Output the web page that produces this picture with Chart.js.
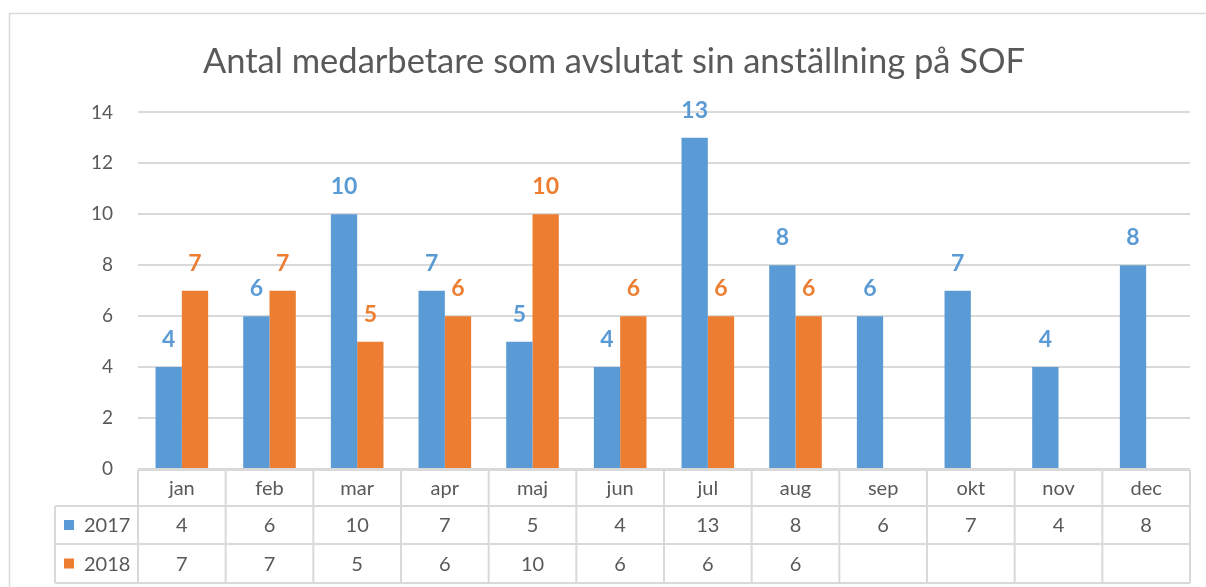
<!DOCTYPE html>
<html>
<head>
<meta charset="utf-8">
<script src="https://cdn.jsdelivr.net/npm/chart.js@4"></script>
<style>
  body { margin: 0; background: #ffffff; }
  #wrap { width: 1206px; height: 587px; }
</style>
</head>
<body>
<div id="wrap"><canvas id="chart" width="1206" height="587"></canvas></div>
<script>
const months = ["jan", "feb", "mar", "apr", "maj", "jun", "jul", "aug", "sep", "okt", "nov", "dec"];
const values2017 = [4, 6, 10, 7, 5, 4, 13, 8, 6, 7, 4, 8];
const values2018 = [7, 7, 5, 6, 10, 6, 6, 6, null, null, null, null];
const seriesNames = ["2017", "2018"];
const yTicks = [0, 2, 4, 6, 8, 10, 12, 14];

const blue = "#5B9BD5";
const orange = "#ED7D31";
const textGray = "#595959";
const lineGray = "#d9d9d9";
const fontFamily = "Lato, 'Open Sans', sans-serif";

// bar value labels, outside end
const valueLabels = {
  id: "valueLabels",
  afterDatasetsDraw(chart) {
    const ctx = chart.ctx;
    ctx.save();
    ctx.font = "bold 23px " + fontFamily;
    ctx.textAlign = "center";
    ctx.textBaseline = "bottom";
    chart.data.datasets.forEach((ds, i) => {
      const meta = chart.getDatasetMeta(i);
      ctx.fillStyle = ds.backgroundColor;
      meta.data.forEach((bar, j) => {
        if (ds.data[j] == null) return;
        ctx.fillText(String(ds.data[j]), bar.x, bar.y - 16);
      });
    });
    ctx.restore();
  }
};

// data table under the x axis, plus the outer chart border
const dataTable = {
  id: "dataTable",
  afterDraw(chart) {
    const ctx = chart.ctx;
    const x = chart.scales.x;
    const area = chart.chartArea;
    const rowTop = area.bottom + 1;
    const rows = [rowTop, rowTop + 36, rowTop + 74, rowTop + 113];
    const left = 55;
    const step = (area.right - area.left) / months.length;

    ctx.save();
    ctx.strokeStyle = lineGray;
    ctx.lineWidth = 2;
    ctx.beginPath();
    ctx.moveTo(area.left, rows[0]); ctx.lineTo(area.right, rows[0]);
    for (let r = 1; r < rows.length; r++) {
      ctx.moveTo(left, rows[r]); ctx.lineTo(area.right, rows[r]);
    }
    for (let c = 0; c <= months.length; c++) {
      const cx = area.left + c * step;
      ctx.moveTo(cx, rows[0]); ctx.lineTo(cx, rows[3]);
    }
    ctx.moveTo(left, rows[1]); ctx.lineTo(left, rows[3]);
    ctx.stroke();

    ctx.fillStyle = textGray;
    ctx.font = "20px " + fontFamily;
    ctx.textAlign = "center";
    ctx.textBaseline = "middle";
    months.forEach((m, i) => {
      const cx = x.getPixelForValue(i);
      ctx.fillText(m, cx, (rows[0] + rows[1]) / 2 + 1);
      ctx.fillText(String(values2017[i]), cx, (rows[1] + rows[2]) / 2 + 1);
      if (values2018[i] != null) ctx.fillText(String(values2018[i]), cx, (rows[2] + rows[3]) / 2 + 1);
    });

    [blue, orange].forEach((col, r) => {
      const cy = (rows[r + 1] + rows[r + 2]) / 2;
      ctx.fillStyle = col;
      ctx.fillRect(left + 9, cy - 5, 10, 10);
      ctx.fillStyle = textGray;
      ctx.textAlign = "left";
      ctx.fillText(seriesNames[r], left + 29, cy + 1);
    });

    ctx.strokeStyle = lineGray;
    ctx.lineWidth = 1.5;
    ctx.strokeRect(9.5, 13.5, 1230, 600);
    ctx.restore();
  }
};

const ctx = document.getElementById("chart").getContext("2d");
new Chart(ctx, {
  type: "bar",
  data: {
    labels: months,
    datasets: [
      { label: seriesNames[0], data: values2017, backgroundColor: blue },
      { label: seriesNames[1], data: values2018, backgroundColor: orange }
    ]
  },
  options: {
    responsive: false,
    animation: false,
    layout: { padding: { left: 38, right: 16, top: 0, bottom: 110 } },
    datasets: { bar: { categoryPercentage: 0.6, barPercentage: 1.0 } },
    plugins: {
      legend: { display: false },
      tooltip: { enabled: false },
      title: {
        display: true,
        text: "Antal medarbetare som avslutat sin anställning på SOF",
        color: textGray,
        font: { family: fontFamily, size: 34.5, weight: "normal" },
        padding: { top: 41, bottom: 30 }
      }
    },
    scales: {
      x: {
        grid: { display: false },
        border: { display: false },
        ticks: { display: false }
      },
      y: {
        min: 0,
        max: 14,
        afterFit: s => { s.width = 100; },
        afterBuildTicks: s => { s.ticks = yTicks.map(v => ({ value: v })); },
        grid: { color: lineGray, lineWidth: 2, drawTicks: false },
        border: { display: false },
        ticks: { color: textGray, font: { family: fontFamily, size: 19 }, padding: 25 }
      }
    }
  },
  plugins: [valueLabels, dataTable]
});
</script>
</body>
</html>
